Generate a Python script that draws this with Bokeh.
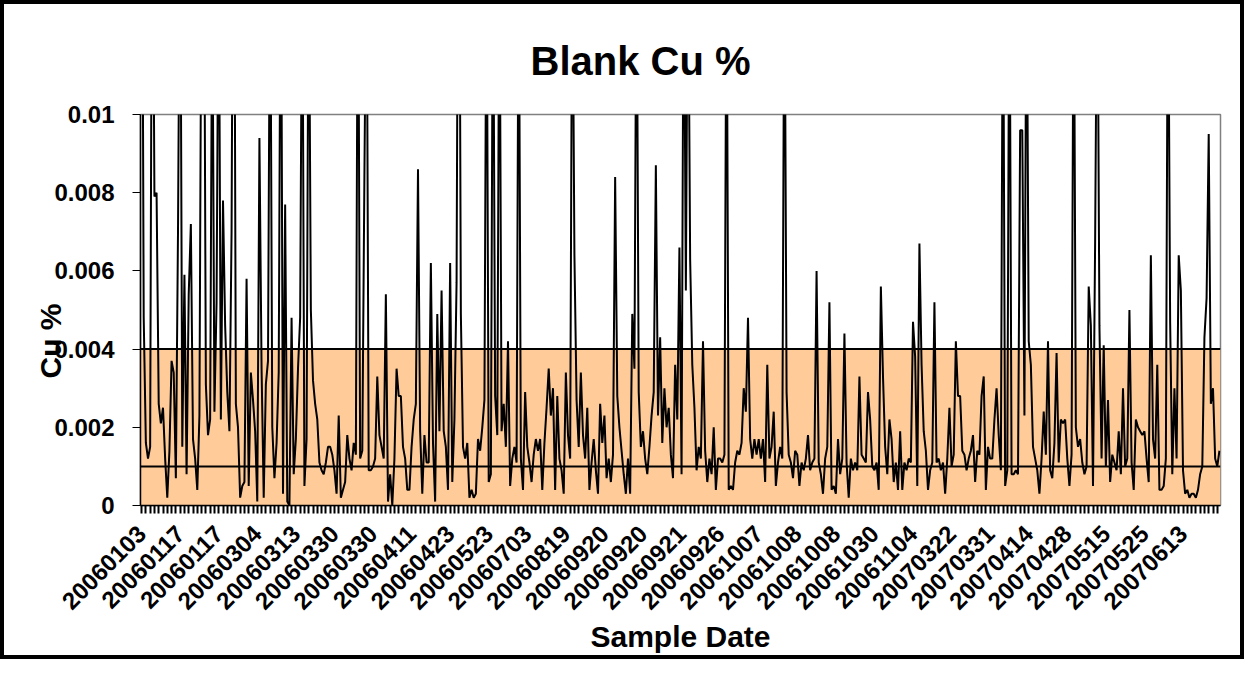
import math
import numpy as np
from bokeh.plotting import figure
from bokeh.models import (Range1d, FixedTicker, CustomJSTickFormatter, BoxAnnotation,
                          Span, Title, ColumnDataSource)
from bokeh.embed import file_html
from bokeh.resources import INLINE

# ---------------- data ----------------
date_labels = ["20060103", "20060117", "20060117", "20060304", "20060313", "20060330",
               "20060330", "20060411", "20060423", "20060523", "20060703", "20060819",
               "20060920", "20060920", "20060921", "20060926", "20061007", "20061008",
               "20061008", "20061030", "20061104", "20070322", "20070331", "20070414",
               "20070428", "20070515", "20070525", "20070613"]
samples_per_label = 18

# Cu % values, one list per labelled block of samples (values above 0.01 run off the chart)
blk01 = [0.02, 0.0048, 0.0016, 0.0012, 0.0015, 0.018, 0.0079, 0.008, 0.0026, 0.0021, 0.0025, 0.0012, 0.0002, 0.0014, 0.0037, 0.0034, 0.0007, 0.007]
blk02 = [0.016, 0.0015, 0.0059, 0.0008, 0.0054, 0.0072, 0.0017, 0.0012, 0.0004, 0.0023, 0.015, 0.017, 0.0031, 0.0018, 0.0022, 0.014, 0.0024, 0.0052]
blk03 = [0.015, 0.0022, 0.0078, 0.0046, 0.0029, 0.0019, 0.007, 0.02, 0.0026, 0.002, 0.0002, 0.0005, 0.0006, 0.0058, 0.0005, 0.0034, 0.0027, 0.0019]
blk04 = [0.0001, 0.0094, 0.0035, 0.0002, 0.0031, 0.0037, 0.015, 0.002, 0.0007, 0.0016, 0.0034, 0.016, 0.0003, 0.0077, 0.0001, 0.0, 0.0048, 0.0008]
blk05 = [0.0017, 0.0035, 0.0048, 0.015, 0.0005, 0.0017, 0.015, 0.005, 0.0032, 0.0026, 0.0022, 0.0011, 0.0009, 0.0008, 0.0011, 0.0015, 0.0015, 0.0013]
blk06 = [0.0009, 0.0003, 0.0023, 0.0002, 0.0004, 0.0006, 0.0018, 0.0012, 0.0009, 0.0016, 0.0013, 0.016, 0.0012, 0.0014, 0.0085, 0.015, 0.0009, 0.0009]
blk07 = [0.001, 0.0012, 0.0033, 0.0018, 0.0015, 0.0012, 0.0054, 0.0001, 0.0008, 0.0, 0.0012, 0.0035, 0.0028, 0.0028, 0.0015, 0.0012, 0.0004, 0.0004]
blk08 = [0.0015, 0.0022, 0.0026, 0.0086, 0.0019, 0.0003, 0.0018, 0.0011, 0.0011, 0.0062, 0.0016, 0.0001, 0.0049, 0.0019, 0.0055, 0.0019, 0.0015, 0.0004]
blk09 = [0.0062, 0.0006, 0.0022, 0.0057, 0.02, 0.0049, 0.0015, 0.0012, 0.0016, 0.0002, 0.0004, 0.0002, 0.0003, 0.0017, 0.0014, 0.002, 0.0027, 0.015]
blk10 = [0.0006, 0.0008, 0.015, 0.0028, 0.0018, 0.015, 0.0019, 0.0026, 0.0015, 0.0042, 0.0005, 0.0012, 0.0015, 0.0011, 0.015, 0.0012, 0.0004, 0.0029]
blk11 = [0.0015, 0.0011, 0.0006, 0.0013, 0.0017, 0.0014, 0.0017, 0.0004, 0.0016, 0.0025, 0.0035, 0.0023, 0.003, 0.0004, 0.0028, 0.0012, 0.0009, 0.0003]
blk12 = [0.0034, 0.0018, 0.0012, 0.015, 0.0064, 0.0027, 0.0015, 0.0034, 0.0018, 0.0012, 0.0025, 0.0004, 0.0011, 0.0017, 0.0009, 0.0003, 0.0026, 0.0016]
blk13 = [0.0023, 0.0007, 0.0012, 0.0006, 0.0013, 0.0084, 0.0028, 0.002, 0.0014, 0.0008, 0.0003, 0.0012, 0.0003, 0.0049, 0.0035, 0.015, 0.0029, 0.0015]
blk14 = [0.0019, 0.0012, 0.0008, 0.0015, 0.0023, 0.0029, 0.0087, 0.0023, 0.0043, 0.0016, 0.003, 0.002, 0.0025, 0.0013, 0.0007, 0.0036, 0.0022, 0.0066]
blk15 = [0.0008, 0.015, 0.0055, 0.015, 0.0063, 0.0036, 0.0025, 0.0009, 0.0015, 0.0012, 0.0042, 0.0014, 0.0006, 0.0012, 0.0008, 0.002, 0.0004, 0.0012]
blk16 = [0.0012, 0.0011, 0.0013, 0.015, 0.0004, 0.0005, 0.0004, 0.0011, 0.0014, 0.0013, 0.0016, 0.003, 0.0024, 0.0048, 0.0017, 0.0012, 0.0017, 0.0013]
blk17 = [0.0017, 0.0012, 0.0017, 0.0006, 0.0036, 0.0012, 0.0015, 0.0024, 0.0005, 0.0011, 0.0015, 0.0012, 0.015, 0.0029, 0.0013, 0.0011, 0.0007, 0.0014]
blk18 = [0.0013, 0.0005, 0.0011, 0.0009, 0.0012, 0.0018, 0.0009, 0.0011, 0.0012, 0.006, 0.0011, 0.0008, 0.0003, 0.0012, 0.0015, 0.0052, 0.0004, 0.0005]
blk19 = [0.0003, 0.0017, 0.0008, 0.0012, 0.0044, 0.0011, 0.0002, 0.0012, 0.0009, 0.0011, 0.0009, 0.0033, 0.0013, 0.0012, 0.0011, 0.0029, 0.0022, 0.001]
blk20 = [0.0009, 0.0011, 0.0004, 0.0056, 0.0033, 0.0015, 0.0008, 0.0022, 0.0017, 0.0006, 0.0011, 0.0004, 0.0019, 0.0004, 0.0011, 0.0009, 0.0012, 0.0011]
blk21 = [0.0047, 0.0038, 0.0005, 0.0067, 0.0036, 0.0019, 0.0014, 0.0004, 0.0009, 0.0011, 0.0052, 0.0011, 0.0012, 0.0009, 0.0011, 0.0003, 0.0012, 0.0025]
blk22 = [0.001, 0.0013, 0.0042, 0.0028, 0.0028, 0.0014, 0.0013, 0.0009, 0.0012, 0.0014, 0.0018, 0.0006, 0.0014, 0.0013, 0.0028, 0.0033, 0.0004, 0.0015]
blk23 = [0.0012, 0.0012, 0.0022, 0.003, 0.0018, 0.0009, 0.015, 0.0005, 0.0009, 0.015, 0.0008, 0.0008, 0.0009, 0.0008, 0.0096, 0.0096, 0.0023, 0.015]
blk24 = [0.0042, 0.0036, 0.0015, 0.0012, 0.0009, 0.0003, 0.0012, 0.0024, 0.0013, 0.0042, 0.0009, 0.0007, 0.0016, 0.0039, 0.0011, 0.0022, 0.0021, 0.0022]
blk25 = [0.0012, 0.0005, 0.0013, 0.015, 0.002, 0.0015, 0.0017, 0.0011, 0.0008, 0.001, 0.0056, 0.0046, 0.0005, 0.0068, 0.015, 0.0046, 0.0012, 0.0041]
blk26 = [0.001, 0.0027, 0.0006, 0.0013, 0.0011, 0.0009, 0.0019, 0.0008, 0.003, 0.001, 0.0012, 0.005, 0.0011, 0.0004, 0.0022, 0.002, 0.0019, 0.0018]
blk27 = [0.0019, 0.0012, 0.0006, 0.0064, 0.0017, 0.0012, 0.0036, 0.0004, 0.0004, 0.0005, 0.0012, 0.015, 0.0047, 0.0008, 0.003, 0.0012, 0.0064, 0.0055]
blk28 = [0.0009, 0.0003, 0.0004, 0.0002, 0.0003, 0.0003, 0.0002, 0.0004, 0.0008, 0.001, 0.0043, 0.0053, 0.0095, 0.0026, 0.003, 0.0012, 0.001, 0.0014]

blocks = [blk01, blk02, blk03, blk04, blk05, blk06, blk07, blk08, blk09, blk10, blk11, blk12, blk13, blk14,
          blk15, blk16, blk17, blk18, blk19, blk20, blk21, blk22, blk23, blk24, blk25, blk26, blk27, blk28]

lower_limit = 0.001   # horizontal reference line
upper_limit = 0.004   # top of the shaded band
y_ticks = [0, 0.002, 0.004, 0.006, 0.008, 0.01]

# ---------------- build ----------------
cu_pct = [v for blk in blocks for v in blk]
n = len(cu_pct)
src = ColumnDataSource(dict(idx=list(range(n)), cu=cu_pct))

FONT = "Liberation Sans"

p = figure(width=1244, height=659, output_backend="svg", toolbar_location=None,
           x_range=Range1d(-0.5, n - 0.5), y_range=Range1d(0, 0.01),
           min_border_left=136, min_border_right=28, min_border_top=110, min_border_bottom=158,
           background_fill_color="white", border_fill_color="white",
           styles={"border": "4px solid black"})

p.title = Title(text="Blank Cu %", align="left", offset=390, standoff=63,
                text_font=FONT, text_font_size="40px", text_font_style="bold", text_color="black")

# y-axis title, set like the original (overlapping the tick labels a little)
p.add_layout(Title(text="Cu %", align="left", offset=127, standoff=-30,
                   text_font=FONT, text_font_size="30px", text_font_style="bold",
                   text_color="black"), "left")

p.grid.visible = False
p.outline_line_color = "#808080"
p.outline_line_width = 1.5

# shaded band and reference lines
p.add_layout(BoxAnnotation(bottom=0, top=upper_limit, fill_color="#FFCC99", fill_alpha=1.0,
                           line_alpha=0, level="underlay"))
p.add_layout(Span(location=upper_limit, dimension="width", line_color="black", line_width=2))
p.add_layout(Span(location=lower_limit, dimension="width", line_color="black", line_width=2))

p.line("idx", "cu", source=src, line_color="black", line_width=2)

# y axis
p.yaxis.ticker = FixedTicker(ticks=y_ticks)
p.yaxis.formatter = CustomJSTickFormatter(
    code="return tick == 0 ? '0' : (Math.round(tick * 1000) / 1000).toString();")
p.yaxis.major_label_text_font = FONT
p.yaxis.major_label_text_font_size = "24px"
p.yaxis.major_label_text_font_style = "bold"
p.yaxis.major_label_text_color = "black"
p.yaxis.major_tick_out = 8
p.yaxis.major_tick_in = 0
p.yaxis.minor_tick_out = 0
p.yaxis.minor_tick_in = 0
p.yaxis.axis_line_color = "black"
p.yaxis.axis_line_width = 1.5
p.yaxis.major_tick_line_color = "black"
p.yaxis.major_label_standoff = 18

# x axis: a tick every 2 samples, a date label every 18 samples
tick_pos = list(range(0, n, 2))
overrides = {i: "" for i in tick_pos}
for k, lab in enumerate(date_labels):
    overrides[k * samples_per_label] = lab
p.xaxis.ticker = FixedTicker(ticks=tick_pos)
p.xaxis.major_label_overrides = overrides
p.xaxis.major_label_orientation = math.pi / 4
p.xaxis.major_label_text_font = FONT
p.xaxis.major_label_text_font_size = "24px"
p.xaxis.major_label_text_font_style = "bold"
p.xaxis.major_label_text_color = "black"
p.xaxis.major_tick_out = 8
p.xaxis.major_tick_in = 0
p.xaxis.major_tick_line_width = 2
p.xaxis.major_tick_line_color = "black"
p.xaxis.minor_tick_out = 0
p.xaxis.minor_tick_in = 0
p.xaxis.axis_line_color = "black"
p.xaxis.axis_line_width = 1.5
p.xaxis.major_label_standoff = 16
p.xaxis.axis_label = "Sample Date"
p.xaxis.axis_label_text_font = FONT
p.xaxis.axis_label_text_font_size = "30px"
p.xaxis.axis_label_text_font_style = "bold"
p.xaxis.axis_label_text_color = "black"
p.xaxis.axis_label_standoff = 0

open("out.html", "w").write(file_html(p, INLINE))
